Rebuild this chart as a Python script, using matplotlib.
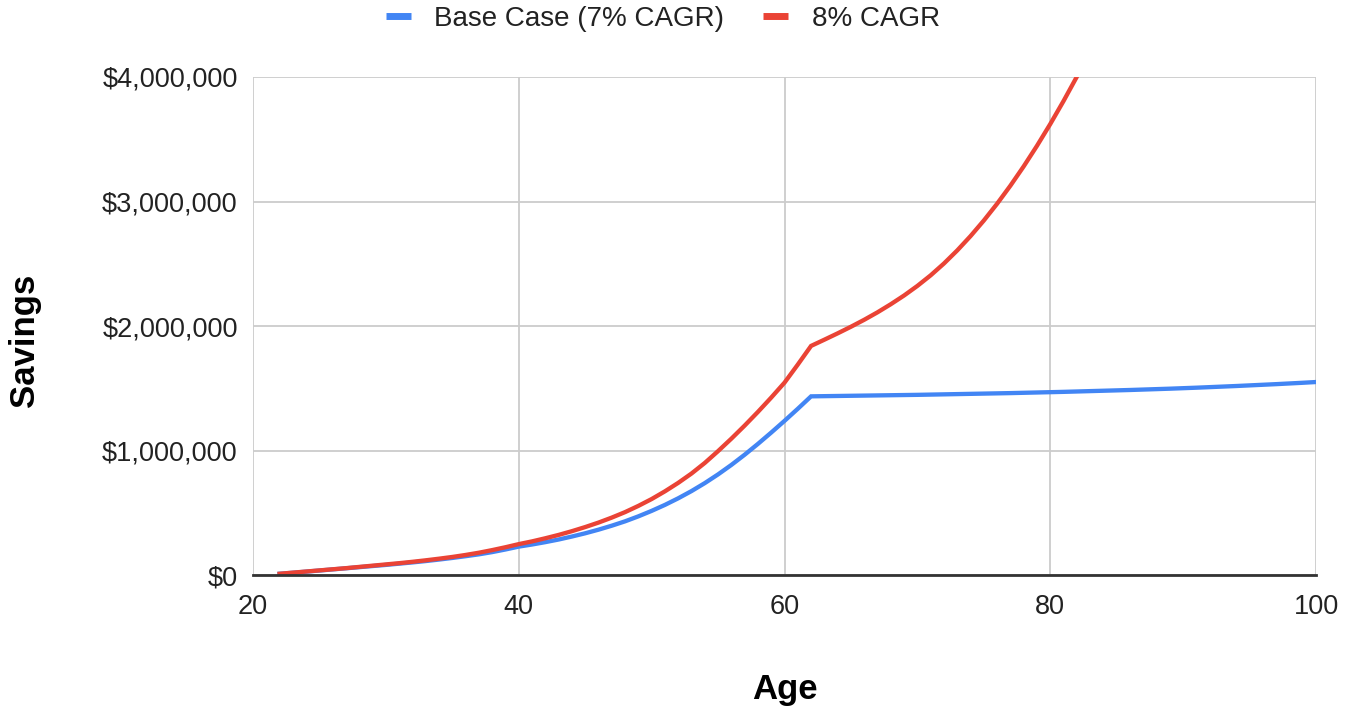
import matplotlib
matplotlib.use("Agg")
import matplotlib.pyplot as plt
from matplotlib.lines import Line2D
from matplotlib.ticker import FuncFormatter

plt.rcParams['font.family'] = ['Liberation Sans', 'DejaVu Sans']

# ---- data (in $ millions) ----
ages_base = list(range(22, 101))
base_case = [
    0.010, 0.018, 0.027, 0.036, 0.045, 0.054, 0.063, 0.072, 0.081,          # 22-30
    0.091, 0.101, 0.112, 0.124, 0.137, 0.151, 0.166, 0.184, 0.205, 0.228,   # 31-40
    0.245, 0.264, 0.285, 0.309, 0.335, 0.364, 0.396, 0.431, 0.471, 0.515,   # 41-50
    0.563, 0.616, 0.674, 0.738, 0.808, 0.884, 0.966, 1.053, 1.144, 1.238,   # 51-60
    1.335, 1.435, 1.4365, 1.438, 1.4395, 1.441, 1.4425, 1.444, 1.4455, 1.447,  # 61-70
    1.449, 1.451, 1.453, 1.455, 1.457, 1.459, 1.461, 1.4635, 1.466, 1.4685,    # 71-80
    1.471, 1.474, 1.477, 1.480, 1.483, 1.486, 1.4895, 1.493, 1.4965, 1.5005,  # 81-90
    1.5045, 1.509, 1.5135, 1.518, 1.523, 1.528, 1.533, 1.5385, 1.544, 1.550,  # 91-100
]
ages_8 = list(range(22, 84))
cagr_8 = [
    0.010, 0.019, 0.028, 0.037, 0.046, 0.055, 0.065, 0.075, 0.085,          # 22-30
    0.095, 0.106, 0.118, 0.131, 0.145, 0.161, 0.179, 0.200, 0.223, 0.248,   # 31-40
    0.270, 0.295, 0.322, 0.352, 0.385, 0.421, 0.461, 0.505, 0.555, 0.610,   # 41-50
    0.672, 0.740, 0.815, 0.900, 0.995, 1.095, 1.200, 1.310, 1.425, 1.545,   # 51-60
    1.690, 1.840, 1.890, 1.941, 1.994, 2.050, 2.110, 2.175, 2.245, 2.322,   # 61-70
    2.407, 2.502, 2.607, 2.722, 2.847, 2.982, 3.127, 3.282, 3.447, 3.622,   # 71-80
    3.807, 4.002, 4.207,                                                    # 81-83
]
base_case = [v * 1e6 for v in base_case]
cagr_8 = [v * 1e6 for v in cagr_8]

series_names = ["Base Case (7% CAGR)", "8% CAGR"]
colors = ["#4285F4", "#EA4335"]
x_ticks = [20, 40, 60, 80, 100]
y_ticks = [0, 1e6, 2e6, 3e6, 4e6]

fig = plt.figure(figsize=(13.56, 7.09), dpi=100)
ax = fig.add_axes([253 / 1356, 1 - 575 / 709, (1316 - 253) / 1356, (575 - 77) / 709])

ax.plot(ages_base, base_case, color=colors[0], lw=3.1, solid_joinstyle='miter', zorder=3)
ax.plot(ages_8, cagr_8, color=colors[1], lw=3.1, solid_joinstyle='miter', zorder=4)

ax.set_xlim(20, 100)
ax.set_ylim(0, 4e6)
ax.set_xticks(x_ticks)
ax.set_yticks(y_ticks)
ax.yaxis.set_major_formatter(FuncFormatter(lambda v, p: "${:,.0f}".format(v)))
ax.grid(True, color="#cccccc", lw=1.3)
ax.set_axisbelow(True)
for s in ax.spines.values():
    s.set_visible(False)
ax.axhline(0, color="#333333", lw=2, zorder=5, clip_on=False)
ax.tick_params(length=0, labelsize=19.5, colors="#222222", pad=11)
ax.tick_params(axis='x', pad=14)

fig.text(25 / 1356, 1 - 340 / 709, "Savings", rotation=90, ha="center", va="center",
         fontsize=25, fontweight="bold", color="#000000")
fig.text(785 / 1356, 1 - 690 / 709, "Age", ha="center", va="center",
         fontsize=25, fontweight="bold", color="#000000")

handles = [Line2D([0], [0], color=c, lw=5, solid_capstyle='butt') for c in colors]
fig.legend(handles, series_names, loc="center", bbox_to_anchor=(663 / 1356, 1 - 19 / 709),
           ncol=2, frameon=False, fontsize=20, handlelength=0.9, handletextpad=0.85,
           columnspacing=1.4, labelcolor="#222222", borderpad=0)

fig.savefig("out.png", dpi=100)
